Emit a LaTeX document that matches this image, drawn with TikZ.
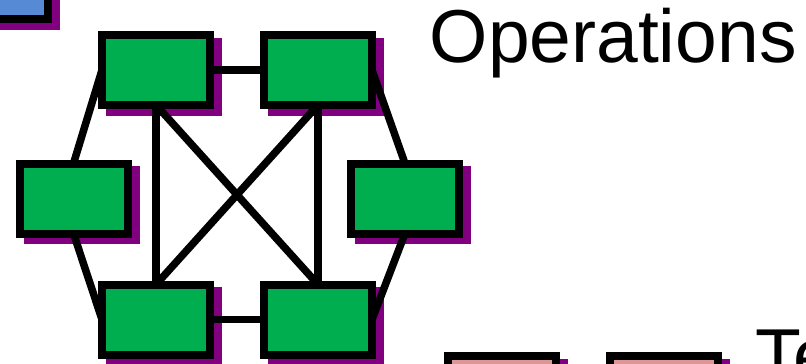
\documentclass[tikz,border=0pt]{standalone}
\usepackage{fontspec}
\setmainfont{Liberation Sans}
\definecolor{boxgreen}{RGB}{0,173,79}
\definecolor{boxblue}{RGB}{86,138,212}
\definecolor{boxpink}{RGB}{221,150,150}
\definecolor{shadowpurple}{RGB}{128,0,128}
\pgfdeclarelayer{shadowlayer}
\pgfdeclarelayer{edgelayer}
\pgfsetlayers{shadowlayer,edgelayer,main}
\begin{document}
\begin{tikzpicture}[x=1pt,y=-1pt,
  unit/.style={draw=black, line width=8pt, minimum width=108pt,
    minimum height=70pt, inner sep=0pt, outer sep=0pt},
  opsbox/.style={unit, fill=boxgreen},
  link/.style={draw=black, line width=7.5pt},
  title/.style={font=\fontsize{75}{90}\selectfont, inner sep=0pt,
    anchor=base west}]
\useasboundingbox (0,0) rectangle (806,364);

% ring of operation units
\node[opsbox] (tl) at (156,70) {};
\node[opsbox] (tr) at (318,70) {};
\node[opsbox] (ml) at (73.5,198.5) {};
\node[opsbox] (mr) at (405,198.5) {};
\node[opsbox] (bl) at (156,319.5) {};
\node[opsbox] (br) at (318,319.5) {};

% neighbouring units
\node[unit, fill=boxblue] (corner) at (-6.5,-16) {};
\node[unit, fill=boxpink] (pa) at (502,391) {};
\node[unit, fill=boxpink] (pb) at (664,391) {};

% labels
\node[title] (ops) at (429.5,62) {Operations};
\node[title] (te) at (755.5,381.5) {Te};

% drop shadows behind every unit
\begin{pgfonlayer}{shadowlayer}
  \foreach \n in {tl,tr,ml,mr,bl,br,corner,pa,pb}
    \fill[shadowpurple] ([shift={(4pt,-2.5pt)}]\n.north west)
      rectangle ([shift={(12pt,-10.5pt)}]\n.south east);
\end{pgfonlayer}

% connections
\begin{pgfonlayer}{edgelayer}
  \draw[link] (tl.center) -- (tr.center);
  \draw[link] (bl.center) -- (br.center);
  \draw[link] (tl.south) -- (bl.north);
  \draw[link] (tr.south) -- (br.north);
  \draw[link] (tl.south) -- (br.north);
  \draw[link] (tr.south) -- (bl.north);
  \draw[link] (tl.west) -- (ml.north);
  \draw[link] (ml.south) -- (bl.west);
  \draw[link] (tr.east) -- (mr.north);
  \draw[link] (mr.south) -- (br.east);
\end{pgfonlayer}
\end{tikzpicture}
\end{document}
